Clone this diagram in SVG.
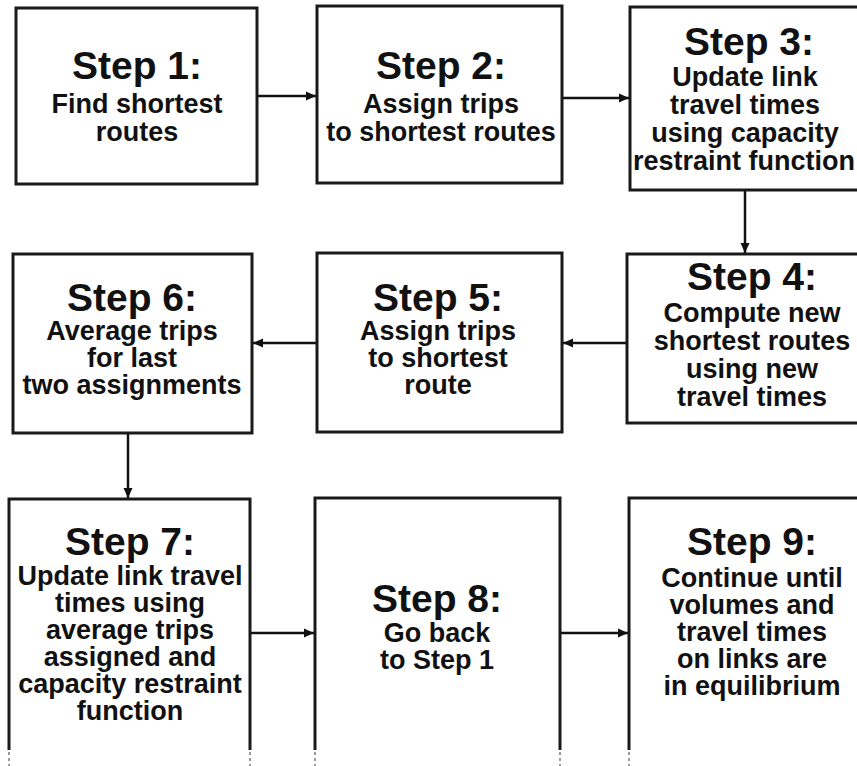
<svg xmlns="http://www.w3.org/2000/svg" width="857" height="766" viewBox="0 0 857 766">
<defs>
<marker id="ah" markerUnits="userSpaceOnUse" markerWidth="11" markerHeight="10" refX="10" refY="5" orient="auto">
<path d="M0,0.5 L10,5 L0,9.5 z" fill="#111"/>
</marker>
<style>
.box{fill:#fff;stroke:#1a1a1a;stroke-width:3}
.open{fill:none;stroke:#1a1a1a;stroke-width:3}
.fade{fill:none;stroke:#999;stroke-width:2;stroke-dasharray:3 3}
.c{fill:none;stroke:#111;stroke-width:2.5;marker-end:url(#ah)}
text{font-family:"Liberation Sans",Arial,sans-serif;font-weight:bold;fill:#111;text-anchor:middle}
.t{font-size:39px}
.s{font-size:27px}
</style>
</defs>
<rect width="857" height="766" fill="#fff"/>
<g id="connectors">
<line class="c" x1="257" y1="96" x2="316" y2="96"/>
<line class="c" x1="562" y1="98" x2="629" y2="98"/>
<line class="c" x1="745" y1="190" x2="745" y2="253"/>
<line class="c" x1="627" y1="343" x2="563" y2="343"/>
<line class="c" x1="317" y1="343" x2="253" y2="343"/>
<line class="c" x1="128" y1="433" x2="128" y2="498"/>
<line class="c" x1="250" y1="633" x2="314" y2="633"/>
<line class="c" x1="560" y1="633" x2="628" y2="633"/>
</g>
<g id="step1">
<rect class="box" x="16" y="8" width="241" height="176"/>
<text class="t" x="137" y="79">Step 1:</text>
<text class="s" x="137" y="113">Find shortest</text>
<text class="s" x="137" y="141">routes</text>
</g>
<g id="step2">
<rect class="box" x="317" y="6" width="245" height="177"/>
<text class="t" x="441" y="79">Step 2:</text>
<text class="s" x="441" y="113">Assign trips</text>
<text class="s" x="441" y="141">to shortest routes</text>
</g>
<g id="step3">
<rect class="box" x="630" y="7" width="240" height="183"/>
<text class="t" x="749" y="55">Step 3:</text>
<text class="s" x="745" y="86">Update link</text>
<text class="s" x="745" y="114">travel times</text>
<text class="s" x="745" y="142">using capacity</text>
<text class="s" x="744" y="170">restraint function</text>
</g>
<g id="step4">
<rect class="box" x="627" y="254" width="243" height="169"/>
<text class="t" x="752" y="290">Step 4:</text>
<text class="s" x="752" y="322">Compute new</text>
<text class="s" x="752" y="350">shortest routes</text>
<text class="s" x="752" y="378">using new</text>
<text class="s" x="752" y="406">travel times</text>
</g>
<g id="step5">
<rect class="box" x="317" y="253" width="245" height="179"/>
<text class="t" x="438" y="311">Step 5:</text>
<text class="s" x="438" y="340">Assign trips</text>
<text class="s" x="438" y="367">to shortest</text>
<text class="s" x="438" y="394">route</text>
</g>
<g id="step6">
<rect class="box" x="13" y="254" width="239" height="179"/>
<text class="t" x="132" y="311">Step 6:</text>
<text class="s" x="132" y="340">Average trips</text>
<text class="s" x="132" y="367">for last</text>
<text class="s" x="132" y="394">two assignments</text>
</g>
<g id="step7">
<path class="open" d="M9,750 V499 H250 V750"/>
<path class="fade" d="M9,752 V766 M250,752 V766"/>
<text class="t" x="130" y="555">Step 7:</text>
<text class="s" x="130" y="585">Update link travel</text>
<text class="s" x="130" y="612">times using</text>
<text class="s" x="130" y="639">average trips</text>
<text class="s" x="130" y="666">assigned and</text>
<text class="s" x="130" y="693">capacity restraint</text>
<text class="s" x="130" y="720">function</text>
</g>
<g id="step8">
<path class="open" d="M315,750 V498 H560 V750"/>
<path class="fade" d="M315,752 V766 M560,752 V766"/>
<text class="t" x="437" y="612">Step 8:</text>
<text class="s" x="437" y="642">Go back</text>
<text class="s" x="437" y="669">to Step 1</text>
</g>
<g id="step9">
<path class="open" d="M629,750 V498 H870"/>
<path class="fade" d="M629,752 V766"/>
<text class="t" x="752" y="555">Step 9:</text>
<text class="s" x="752" y="587">Continue until</text>
<text class="s" x="752" y="614">volumes and</text>
<text class="s" x="752" y="641">travel times</text>
<text class="s" x="752" y="668">on links are</text>
<text class="s" x="752" y="695">in equilibrium</text>
</g>
</svg>
